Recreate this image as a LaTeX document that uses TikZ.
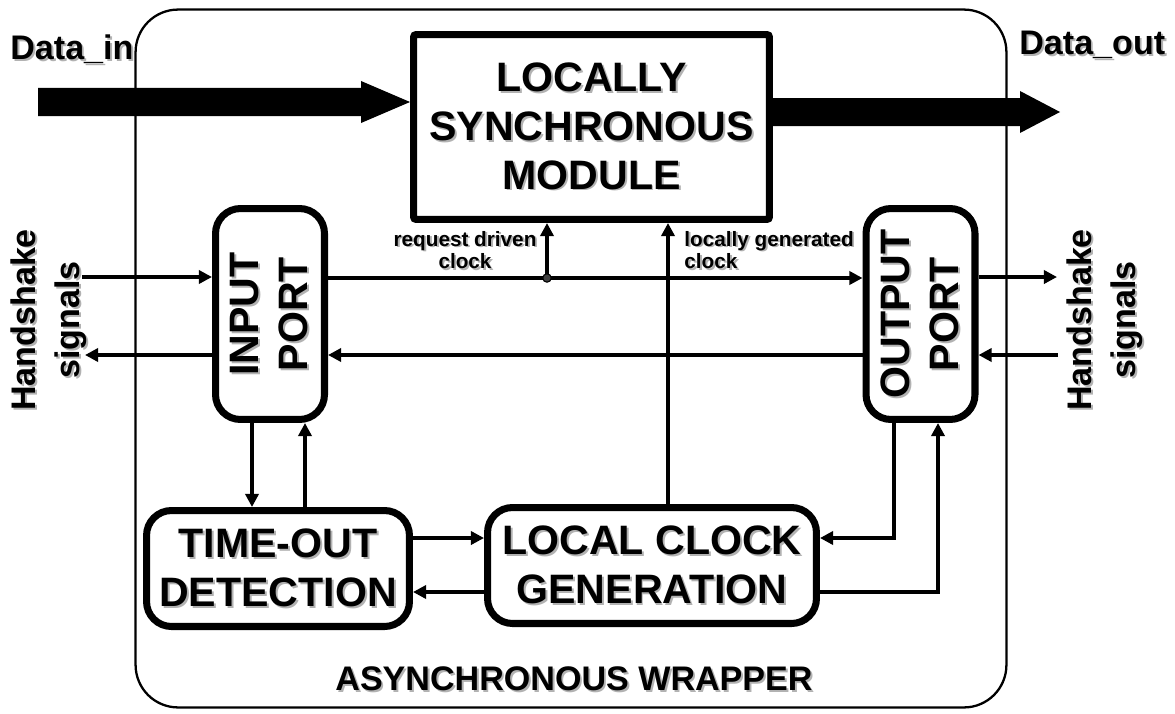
\documentclass[tikz,border=0pt]{standalone}
\usepackage{fontspec}
\setmainfont{Liberation Sans}
\usetikzlibrary{arrows.meta,calc}

% bold text with a soft grey drop shadow (upright and for text turned by 90 degrees)
\newcommand\shd[1]{\leavevmode\rlap{\kern1.1pt\raisebox{-1.1pt}{\textcolor{black!30}{#1}}}#1}
\newcommand\shdr[1]{\leavevmode\rlap{\kern-1.1pt\raisebox{-1.1pt}{\textcolor{black!30}{#1}}}#1}

\newcommand\bigf{\fontsize{23.4}{27.8}\selectfont\bfseries}
\newcommand\midf{\fontsize{19.4}{25}\selectfont\bfseries}
\newcommand\smallf{\fontsize{11.8}{13}\selectfont\bfseries}

\begin{document}
\begin{tikzpicture}[x=0.02cm,y=-0.02cm,
  block/.style={draw, line width=4pt, align=center, font=\bigf, inner sep=0pt},
  rblock/.style={block, rounded corners=0.5cm},
  conn/.style={line width=2.4pt, -{Triangle[length=7.5pt,width=7.5pt]}},
  rtext/.style={rotate=90, align=center, inner sep=0pt}]

\fill[white] (0,0) rectangle (1175,713);
\useasboundingbox (0,0) rectangle (1175,713);

% wrapper outline
\node[draw, line width=1.3pt, rounded corners=0.85cm, minimum width=17.42cm,
      minimum height=13.96cm, inner sep=0pt] (wrap) at (571,358.5) {};

% blocks
\node[block, rounded corners=1.5pt, minimum width=7.12cm, minimum height=3.7cm]
  (lsm) at (591.5,127) {\shd{LOCALLY}\\\shd{SYNCHRONOUS}\\\shd{MODULE}};
\node[rblock, minimum width=2.18cm, minimum height=4.22cm] (inp) at (270,314) {};
\node[rtext, font=\bigf] (inptxt) at (inp.center) {\shdr{INPUT}\\\shdr{PORT}};
\node[rblock, minimum width=2.18cm, minimum height=4.22cm] (outp) at (920.5,314) {};
\node[rtext, font=\bigf] (outptxt) at (outp.center) {\shdr{OUTPUT}\\\shdr{PORT}};
\node[rblock, minimum width=5.26cm, minimum height=2.32cm]
  (tod) at (278,568.5) {\shd{TIME-OUT}\\\shd{DETECTION}};
\node[rblock, minimum width=6.58cm, minimum height=2.32cm]
  (lcg) at (652,565.5) {\shd{LOCAL CLOCK}\\\shd{GENERATION}};

% outside labels
\node[rtext, font=\midf] (hsl) at (50,320) {\shdr{Handshake}\\\shdr{signals}};
\node[rtext, font=\midf] (hsr) at (1106,320) {\shdr{Handshake}\\\shdr{signals}};
\node[anchor=base west, font=\midf, inner sep=0pt] (dinlbl) at (10,60) {\shd{Data\_in}};
\node[anchor=base west, font=\midf, inner sep=0pt] (doutlbl) at (1019,55) {\shd{Data\_out}};
\node[font=\midf, inner sep=0pt] (wraplbl) at (574,680) {\shd{ASYNCHRONOUS WRAPPER}};
\node[font=\smallf, align=center, inner sep=0pt] (rdc) at (465,251) {\shd{request driven}\\\shd{clock}};
\node[font=\smallf, align=left, anchor=west, inner sep=0pt] (lgc) at (684,251) {\shd{locally generated}\\\shd{clock}};

% wide data arrows
\coordinate (dinS) at (38,102);
\path (dinS -| lsm.west) coordinate (dinT);
\fill ($(dinS)+(0,-14)$) -- ($(dinT)+(-49,-14)$) -- ($(dinT)+(-49,-21)$) -- (dinT)
      -- ($(dinT)+(-49,21)$) -- ($(dinT)+(-49,14)$) -- ($(dinS)+(0,14)$) -- cycle;
\coordinate (doutT) at (1060,112);
\path (doutT -| lsm.east) coordinate (doutS);
\fill ($(doutS)+(-2,-14)$) -- ($(doutT)+(-40,-14)$) -- ($(doutT)+(-40,-21)$) -- (doutT)
      -- ($(doutT)+(-40,21)$) -- ($(doutT)+(-40,14)$) -- ($(doutS)+(-2,14)$) -- cycle;

% handshake lines
\coordinate (hlin) at (82,277);
\coordinate (hlout) at (85,355);
\coordinate (hrout) at (1057,277);
\coordinate (hrin) at (1058,355);
\draw[conn] (hlin) -- (hlin -| inp.west);
\draw[conn] (inp.west |- hlout) -- (hlout);
\draw[conn] (outp.east |- hrout) -- (hrout);
\draw[conn] (hrin) -- (hrin -| outp.east);

% clocks
\coordinate (clk) at (547,278);
\coordinate (lg) at (668,400);
\draw[conn] (clk -| inp.east) -- (clk -| outp.west);
\draw[conn] (clk) -- (clk |- lsm.south);
\fill[black!75, draw=black, line width=0.6pt] (clk) circle[radius=2.4pt];
\draw[conn] (lcg.north -| lg) -- (lg |- lsm.south);

% acknowledge path back to the input port
\coordinate (back) at (600,355);
\draw[conn] (outp.west |- back) -- (back -| inp.east);

% input port <-> time-out detection
\coordinate (td1) at (252,460);
\coordinate (td2) at (305,460);
\draw[conn] (inp.south -| td1) -- (tod.north -| td1);
\draw[conn] (tod.north -| td2) -- (inp.south -| td2);

% time-out detection <-> local clock generation
\coordinate (tl1) at (450,538);
\coordinate (tl2) at (450,592);
\draw[conn] (tl1 -| tod.east) -- (tl1 -| lcg.west);
\draw[conn] (tl2 -| lcg.west) -- (tl2 -| tod.east);

% output port <-> local clock generation
\coordinate (o1) at (894,538);
\coordinate (o2) at (938,592);
\draw[conn] (outp.south -| o1) |- (o1 -| lcg.east);
\draw[conn] (o2 -| lcg.east) -| (outp.south -| o2);

\end{tikzpicture}
\end{document}
